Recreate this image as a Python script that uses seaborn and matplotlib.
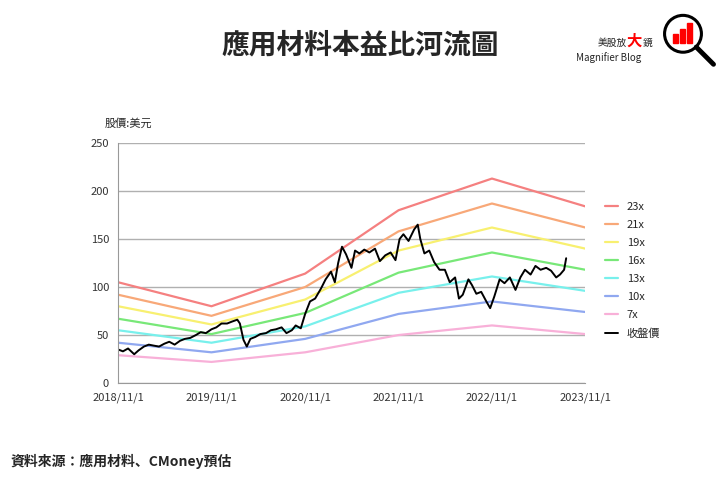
import pandas as pd
import numpy as np
import seaborn as sns
import matplotlib
matplotlib.use('Agg')
import matplotlib.pyplot as plt
from matplotlib.patches import Circle, Rectangle

# ====================
# Data
# ====================
band_dates = pd.to_datetime(['2018-11-01', '2019-11-01', '2020-11-01',
                             '2021-11-01', '2022-11-01', '2023-11-01'])
band_names = ['23x', '21x', '19x', '16x', '13x', '10x', '7x']
band_values = [
    [105, 80, 114, 180, 213, 184],
    [92, 70, 100, 158, 187, 162],
    [80, 61, 87, 138, 162, 140],
    [67, 51, 73, 115, 136, 118],
    [55, 42, 59, 94, 111, 96],
    [42, 32, 46, 72, 85, 74],
    [29, 22, 32, 50, 60, 51],
]
band_colors = ['#f58080', '#f8a878', '#f8f070', '#78e878', '#78f0ec', '#90a8f0', '#f8b0d8']

price_dates = pd.to_datetime([
    '2018-11-01', '2018-11-20', '2018-12-10', '2019-01-03', '2019-01-20', '2019-02-10',
    '2019-03-01', '2019-03-20', '2019-04-10', '2019-05-01', '2019-05-20', '2019-06-10',
    '2019-07-01', '2019-07-20', '2019-08-10', '2019-09-01', '2019-09-20', '2019-10-10',
    '2019-11-01', '2019-11-20', '2019-12-10', '2020-01-01', '2020-01-20', '2020-02-10',
    '2020-02-20', '2020-03-05', '2020-03-18', '2020-04-01', '2020-04-20', '2020-05-10',
    '2020-06-01', '2020-06-20', '2020-07-10', '2020-08-01', '2020-08-20', '2020-09-10',
    '2020-09-25', '2020-10-15', '2020-11-01', '2020-11-20', '2020-12-10', '2021-01-01',
    '2021-01-20', '2021-02-10', '2021-02-25', '2021-03-10', '2021-03-25', '2021-04-10',
    '2021-05-01', '2021-05-15', '2021-06-01', '2021-06-20', '2021-07-10', '2021-08-01',
    '2021-08-20', '2021-09-10', '2021-10-01', '2021-10-20', '2021-11-05', '2021-11-20',
    '2021-12-10', '2022-01-01', '2022-01-15', '2022-01-25', '2022-02-10', '2022-03-01',
    '2022-03-20', '2022-04-10', '2022-05-01', '2022-05-20', '2022-06-10', '2022-06-25',
    '2022-07-10', '2022-08-01', '2022-08-15', '2022-09-01', '2022-09-20', '2022-10-10',
    '2022-10-25', '2022-11-10', '2022-12-01', '2022-12-20', '2023-01-10', '2023-02-01',
    '2023-02-20', '2023-03-10', '2023-04-01', '2023-04-20', '2023-05-10', '2023-06-01',
    '2023-06-20', '2023-07-10', '2023-07-25', '2023-08-10', '2023-08-18',
])
price_values = [
    35, 33, 36, 30, 34, 38,
    40, 39, 38, 41, 43, 40,
    44, 46, 47, 50, 53, 52,
    56, 58, 62, 62, 64, 66,
    62, 45, 38, 46, 48, 51,
    52, 55, 56, 58, 52, 55,
    60, 57, 72, 85, 88, 98,
    108, 116, 105, 125, 142, 134,
    120, 138, 135, 139, 136, 140,
    127, 133, 136, 128, 150, 155,
    148, 160, 165, 150, 135, 138,
    126, 118, 118, 105, 110, 88,
    92, 108, 102, 93, 95, 85,
    78, 90, 108, 104, 110, 97,
    110, 118, 113, 122, 118, 120,
    117, 110, 113, 118, 130,
]

y_ticks = [0, 50, 100, 150, 200, 250]

# ====================
# Plotting
# ====================
sns.set_style('white', rc={
    'font.family': 'sans-serif',
    'font.sans-serif': ['Noto Sans CJK TC', 'Noto Sans CJK JP', 'Noto Sans CJK SC', 'DejaVu Sans'],
})
fig = plt.figure(figsize=(7.2, 4.8), dpi=100)
ax = fig.add_axes([0.164, 0.202, 0.649, 0.5])

for name, vals, col in zip(band_names, band_values, band_colors):
    sns.lineplot(x=band_dates, y=vals, ax=ax, color=col, lw=1.6, label=name)
sns.lineplot(x=price_dates, y=price_values, ax=ax, color='black', lw=1.4, label='收盤價')

ax.set_xlim(band_dates[0], band_dates[-1])
ax.set_ylim(0, 250)
ax.set_yticks(y_ticks)
ax.set_xticks(band_dates)
ax.set_xticklabels([d.strftime('%Y/') + str(d.month) + '/1' for d in band_dates])
ax.tick_params(labelsize=8, colors='#333333', length=3)
ax.grid(axis='y', color='#b0b0b0', lw=1)
for s in ['top', 'right']:
    ax.spines[s].set_visible(False)
for s in ['left', 'bottom']:
    ax.spines[s].set_color('#999999')
ax.set_xlabel('')
ax.set_ylabel('')
ax.legend(loc='center left', bbox_to_anchor=(1.02, 0.47), frameon=False,
          fontsize=8, handlelength=1.2, labelspacing=0.72)

fig.text(0.145, 0.735, '股價:美元', fontsize=8)
fig.text(0.5, 0.905, '應用材料本益比河流圖', ha='center', va='center',
         fontsize=20, fontweight='bold')
fig.text(0.015, 0.03, '資料來源：應用材料、CMoney預估', fontsize=10, fontweight='bold')

# logo
fig.text(0.87, 0.91, '美股放', ha='right', va='center', fontsize=7)
fig.text(0.87, 0.915, '大', ha='left', va='center', fontsize=11, color='red', fontweight='bold')
fig.text(0.893, 0.91, '鏡', ha='left', va='center', fontsize=7)
fig.text(0.845, 0.88, 'Magnifier Blog', ha='center', va='center', fontsize=7)
lax = fig.add_axes([0.915, 0.86, 0.08, 0.12])
lax.set_xlim(0, 1)
lax.set_ylim(0, 1)
lax.set_aspect('equal')
lax.axis('off')
lax.add_patch(Circle((0.42, 0.58), 0.32, fill=False, lw=2.2, color='black'))
lax.plot([0.65, 0.95], [0.35, 0.05], color='black', lw=3.5)
for i, h in enumerate([0.15, 0.25, 0.35]):
    lax.add_patch(Rectangle((0.25 + i * 0.12, 0.42), 0.08, h, color='red'))

fig.savefig('out.png', dpi=100)
